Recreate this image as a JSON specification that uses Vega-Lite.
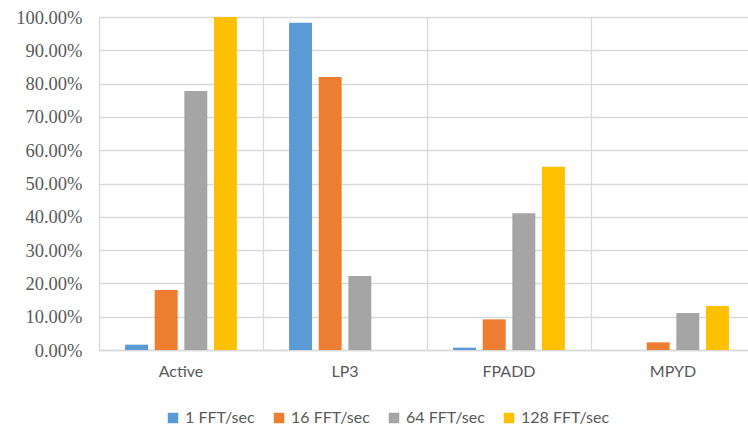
{
  "$schema": "https://vega.github.io/schema/vega-lite/v6.json",
  "autosize": {"type": "none"},
  "padding": {"left": 99, "top": 17, "right": 0, "bottom": 76},
  "width": 656,
  "height": 333,
  "background": "white",
  "data": {"values": [
    {"cat": "Active", "series": "1 FFT/sec", "v": 0.016},
    {"cat": "Active", "series": "16 FFT/sec", "v": 0.18},
    {"cat": "Active", "series": "64 FFT/sec", "v": 0.778},
    {"cat": "Active", "series": "128 FFT/sec", "v": 1.0},
    {"cat": "LP3", "series": "1 FFT/sec", "v": 0.983},
    {"cat": "LP3", "series": "16 FFT/sec", "v": 0.82},
    {"cat": "LP3", "series": "64 FFT/sec", "v": 0.222},
    {"cat": "LP3", "series": "128 FFT/sec", "v": 0},
    {"cat": "FPADD", "series": "1 FFT/sec", "v": 0.007},
    {"cat": "FPADD", "series": "16 FFT/sec", "v": 0.092},
    {"cat": "FPADD", "series": "64 FFT/sec", "v": 0.411},
    {"cat": "FPADD", "series": "128 FFT/sec", "v": 0.55},
    {"cat": "MPYD", "series": "1 FFT/sec", "v": 0},
    {"cat": "MPYD", "series": "16 FFT/sec", "v": 0.023},
    {"cat": "MPYD", "series": "64 FFT/sec", "v": 0.111},
    {"cat": "MPYD", "series": "128 FFT/sec", "v": 0.132}
  ]},
  "mark": {"type": "bar"},
  "encoding": {
    "x": {
      "field": "cat", "type": "nominal", "sort": ["Active", "LP3", "FPADD", "MPYD"],
      "scale": {"paddingInner": 0, "paddingOuter": 0},
      "axis": {
        "title": null, "labelAngle": 0, "ticks": false, "grid": true, "bandPosition": 0,
        "gridColor": "#d9d9d9", "gridWidth": 1.3,
        "domainColor": "#d9d9d9", "domainWidth": 1.3,
        "labelFont": "Lato", "labelFontSize": 16, "labelColor": "#595959", "labelPadding": 13
      }
    },
    "xOffset": {
      "field": "series", "type": "nominal", "sort": ["1 FFT/sec", "16 FFT/sec", "64 FFT/sec", "128 FFT/sec"],
      "scale": {"paddingInner": 0.225, "paddingOuter": 0.88}
    },
    "y": {
      "field": "v", "type": "quantitative",
      "scale": {"domain": [0, 1], "nice": false},
      "axis": {
        "title": null, "format": ".2%", "values": [0,0.1,0.2,0.3,0.4,0.5,0.6,0.7,0.8,0.9,1.0],
        "labelOverlap": false, "labelBound": false, "labelFlush": false,
        "ticks": false, "domain": false, "gridColor": "#d9d9d9", "gridWidth": 1.3,
        "labelFont": "'Liberation Serif', serif", "labelFontSize": 18.5, "labelColor": "#595959", "labelPadding": 17
      }
    },
    "color": {
      "field": "series", "type": "nominal", "sort": ["1 FFT/sec", "16 FFT/sec", "64 FFT/sec", "128 FFT/sec"],
      "scale": {"domain": ["1 FFT/sec", "16 FFT/sec", "64 FFT/sec", "128 FFT/sec"], "range": ["#5B9BD5", "#ED7D31", "#A5A5A5", "#FFC000"]},
      "legend": {
        "title": null, "orient": "none", "direction": "horizontal", "legendX": 66, "legendY": 393,
        "symbolType": "square", "symbolSize": 110, "symbolStrokeWidth": 0, "symbolOpacity": 1,
        "labelFont": "Lato", "labelFontSize": 16, "labelColor": "#595959", "labelOffset": 4, "columnPadding": 16
      }
    }
  },
  "config": {"view": {"stroke": null}}
}
